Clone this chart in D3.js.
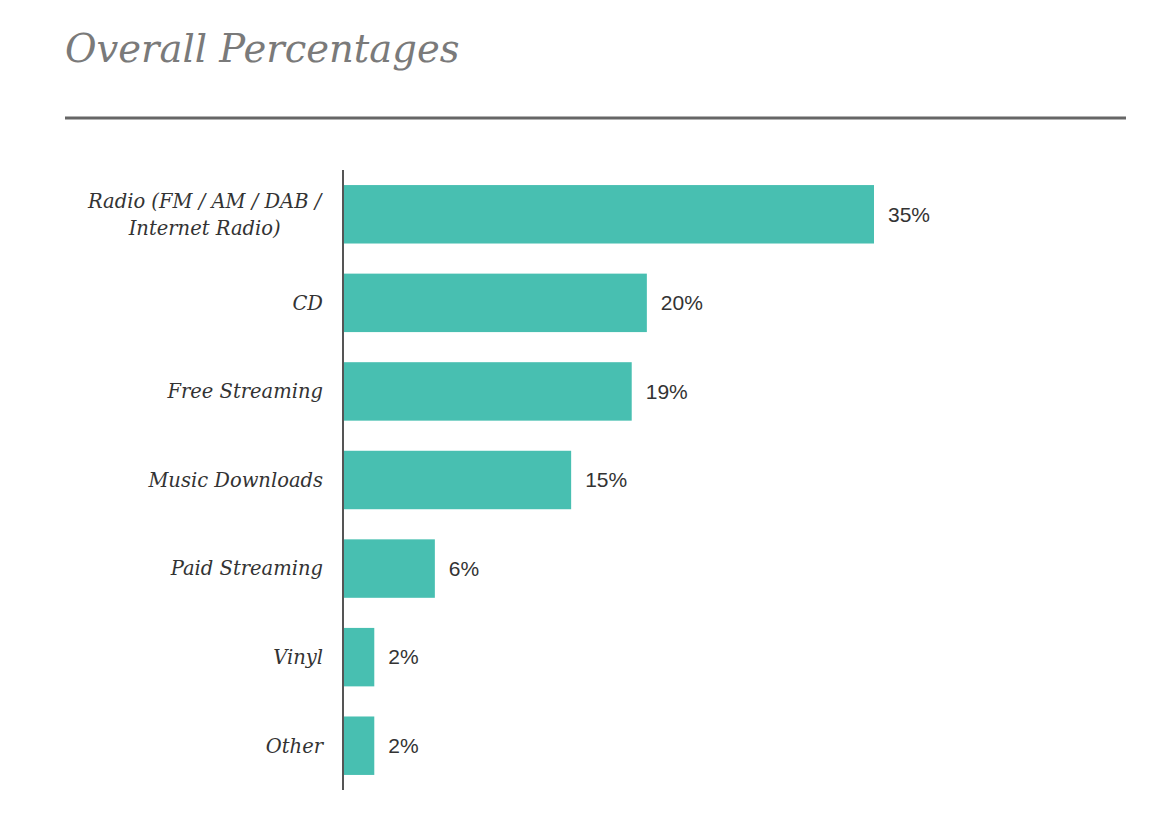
<!DOCTYPE html>
<html>
<head>
<meta charset="utf-8">
<script src="https://cdn.jsdelivr.net/npm/d3@7"></script>
<style>
  body { margin: 0; background: #fff; }
  .cat { font-family: 'DejaVu Serif', serif; font-style: italic; font-size: 19.5px; fill: #333; }
  .val { font-family: 'Liberation Sans', Arial, sans-serif; font-size: 21px; fill: #333; }
  .title { font-family: 'DejaVu Serif', serif; font-style: italic; font-size: 38.5px; fill: #7a7a7a; }
</style>
</head>
<body>
<svg id="chart"></svg>
<script>
const categories = [
  ['Radio (FM / AM / DAB /', 'Internet Radio)'],
  ['CD'],
  ['Free Streaming'],
  ['Music Downloads'],
  ['Paid Streaming'],
  ['Vinyl'],
  ['Other']
];
const values = [35, 20, 19, 15, 6, 2, 2];

const w = 1170;
const h = 828;
const margin = { top: 170, right: 40, bottom: 38, left: 343 };

const svg = d3.select('#chart').attr('width', w).attr('height', h);

svg.append('text')
  .attr('class', 'title')
  .attr('x', 65)
  .attr('y', 62)
  .text('Overall Percentages');

svg.append('line')
  .attr('x1', 65).attr('x2', 1126)
  .attr('y1', 118).attr('y2', 118)
  .attr('stroke', '#666')
  .attr('stroke-width', 3);

const keys = categories.map((d, i) => i);

const yScale = d3.scaleBand()
  .domain(keys)
  .range([margin.top, h - margin.bottom])
  .paddingInner(0.34)
  .paddingOuter(0.17);

const xScale = d3.scaleLinear()
  .domain([0, 35])
  .range([margin.left + 1, 874]);

svg.selectAll('.bar')
  .data(values)
  .enter()
  .append('rect')
  .attr('class', 'bar')
  .attr('x', xScale(0))
  .attr('y', (d, i) => yScale(i))
  .attr('width', (d) => xScale(d) - xScale(0))
  .attr('height', yScale.bandwidth())
  .attr('fill', '#48bfb1');

svg.selectAll('.val')
  .data(values)
  .enter()
  .append('text')
  .attr('class', 'val')
  .attr('x', (d) => xScale(d) + 14)
  .attr('y', (d, i) => yScale(i) + yScale.bandwidth() / 2)
  .attr('dy', '0.35em')
  .text((d) => `${d}%`);

const cats = svg.selectAll('.cat')
  .data(categories)
  .enter()
  .append('text')
  .attr('class', 'cat')
  .attr('text-anchor', 'middle');

cats.each(function (lines, i) {
  const t = d3.select(this);
  const cy = yScale(i) + yScale.bandwidth() / 2;
  const lh = 27;
  lines.forEach((line, j) => {
    t.append('tspan')
      .attr('x', 0)
      .attr('y', cy + (j - (lines.length - 1) / 2) * lh)
      .attr('dy', '0.35em')
      .text(line);
  });
});
// right-align single lines, center multi-line block against right edge
cats.each(function (lines) {
  const t = d3.select(this);
  const bb = this.getBBox();
  if (lines.length === 1) {
    t.attr('text-anchor', 'end').selectAll('tspan').attr('x', 323);
  } else {
    t.selectAll('tspan').attr('x', 323 - bb.width / 2);
  }
});

svg.append('line')
  .attr('x1', margin.left).attr('x2', margin.left)
  .attr('y1', margin.top).attr('y2', h - margin.bottom)
  .attr('stroke', '#555')
  .attr('stroke-width', 2);
</script>
</body>
</html>
